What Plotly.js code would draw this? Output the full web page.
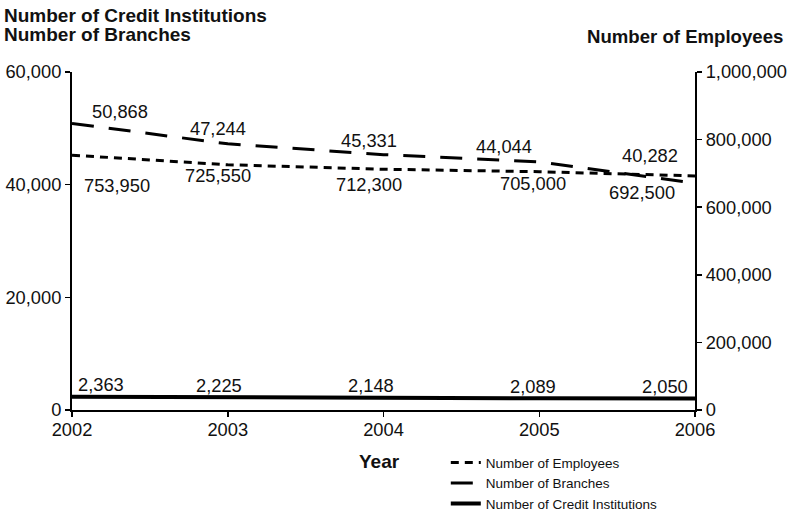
<!DOCTYPE html>
<html>
<head>
<meta charset="utf-8">
<script src="https://cdn.plot.ly/plotly-3.0.1.min.js"></script>
<style>
  html, body { margin: 0; padding: 0; background: #fff; }
  #chart { width: 788px; height: 512px; }
</style>
</head>
<body>
<div id="chart"></div>
<script>
// Banking sector structure, 2002-2006
const years = [2002, 2003, 2004, 2005, 2006];
const employees = [753950, 725550, 712300, 705000, 692500];
const branches = [50868, 47244, 45331, 44044, 40282];
const institutions = [2363, 2225, 2148, 2089, 2050];

const leftTicks = [0, 20000, 40000, 60000];
const rightTicks = [0, 200000, 400000, 600000, 800000, 1000000];

const fmt = v => v.toLocaleString('en-US');
const FONT = 'Liberation Sans, Arial, sans-serif';
const INK = '#111';

const traces = [
  {
    x: years, y: employees, yaxis: 'y2', name: 'Number of Employees',
    mode: 'lines', line: {color: '#000', width: 3, dash: '8px,6px'},
    hoverinfo: 'skip'
  },
  {
    x: years, y: branches, name: 'Number of Branches',
    mode: 'lines', line: {color: '#000', width: 3, dash: '22px,15px'},
    hoverinfo: 'skip'
  },
  {
    x: years, y: institutions, name: 'Number of Credit Institutions',
    mode: 'lines', line: {color: '#000', width: 4},
    hoverinfo: 'skip'
  }
];

// value labels: pixel offsets relative to each point
const empShift = [[45, -30], [-10, -11], [-15, -15], [-6, -12], [-53, -17]];
const brShift = [[48, 12], [-10, 15], [-15, 14], [-35, 15], [-45, 28]];
const instShift = [[29, 12], [-9, 12], [-13, 12], [-6, 12], [-30, 12]];

const labelFont = {size: 18.3, color: INK, family: FONT};
const annotations = [];
years.forEach((yr, i) => {
  annotations.push({x: yr, y: employees[i], yref: 'y2', text: fmt(employees[i]),
    showarrow: false, xshift: empShift[i][0], yshift: empShift[i][1], font: labelFont});
  annotations.push({x: yr, y: branches[i], yref: 'y', text: fmt(branches[i]),
    showarrow: false, xshift: brShift[i][0], yshift: brShift[i][1], font: labelFont});
  annotations.push({x: yr, y: institutions[i], yref: 'y', text: fmt(institutions[i]),
    showarrow: false, xshift: instShift[i][0], yshift: instShift[i][1], font: labelFont});
});

const titleFont = {size: 19, color: INK, family: FONT};
annotations.push(
  {xref: 'paper', yref: 'paper', x: -0.1125, y: 1.1686, xanchor: 'left', yanchor: 'middle',
   showarrow: false, text: '<b>Number of Credit Institutions</b>', font: titleFont},
  {xref: 'paper', yref: 'paper', x: -0.1125, y: 1.1095, xanchor: 'left', yanchor: 'middle',
   showarrow: false, text: '<b>Number of Branches</b>', font: titleFont},
  {xref: 'paper', yref: 'paper', x: 1.1445, y: 1.1036, xanchor: 'right', yanchor: 'middle',
   showarrow: false, text: '<b>Number of Employees</b>', font: {size: 18.6, color: INK, family: FONT}},
  {xref: 'paper', yref: 'paper', x: 0.494, y: -0.151, xanchor: 'center', yanchor: 'middle',
   showarrow: false, text: '<b>Year</b>', font: titleFont}
);

const axisCommon = {
  showgrid: false, zeroline: false, showline: true, linecolor: '#000', linewidth: 2,
  ticks: 'outside', ticklen: 5, tickwidth: 1.5, tickcolor: '#000',
  tickfont: {size: 18.3, color: INK, family: FONT}, fixedrange: true
};

const layout = {
  width: 788, height: 512,
  margin: {l: 72, r: 93, t: 72, b: 102, autoexpand: false},
  paper_bgcolor: '#fff', plot_bgcolor: '#fff',
  font: {family: FONT, color: INK, size: 17},
  showlegend: true,
  legend: {
    x: 0.6, y: -0.11, xanchor: 'left', yanchor: 'top',
    font: {size: 13.5, family: FONT, color: INK},
    tracegroupgap: 0, itemwidth: 30, bgcolor: 'rgba(0,0,0,0)'
  },
  xaxis: Object.assign({}, axisCommon, {
    range: [2002, 2006], tickvals: years, ticktext: years.map(String),
    ticklabelstandoff: -3
  }),
  yaxis: Object.assign({}, axisCommon, {
    range: [0, 60000], tickvals: leftTicks, ticktext: leftTicks.map(fmt)
  }),
  yaxis2: Object.assign({}, axisCommon, {
    range: [0, 1000000], overlaying: 'y', side: 'right',
    tickvals: rightTicks, ticktext: rightTicks.map(fmt)
  }),
  annotations: annotations
};

Plotly.newPlot('chart', traces, layout, {displayModeBar: false, staticPlot: true});
</script>
</body>
</html>
